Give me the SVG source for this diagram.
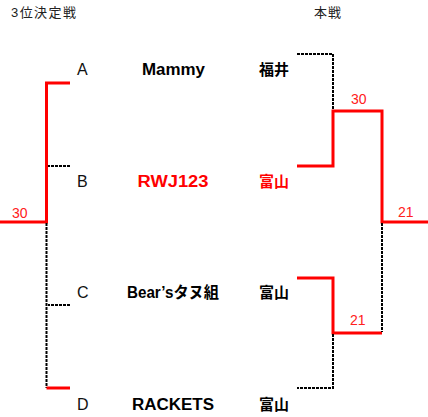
<svg xmlns="http://www.w3.org/2000/svg" width="428" height="417" viewBox="0 0 428 417">
<style>
.red{fill:none;stroke:#ff0000;stroke-width:3}
.dot{fill:none;stroke:#000;stroke-width:2;stroke-dasharray:3 1}
.t{font-family:"Liberation Sans","Noto Sans CJK JP",sans-serif}
.hd{font-size:13px;fill:#222}
.let{font-size:16px;fill:#111}
.team{font-size:16px;font-weight:bold;fill:#000;text-anchor:middle}
.pref{font-size:15px;font-weight:bold;fill:#000;text-anchor:middle}
.sc{font-size:14px;fill:#ff2020}
.r{fill:#ff0000}
</style>
<rect width="428" height="417" fill="#fff"/>
<g id="headers" class="t">
<text class="hd" x="11" y="17" textLength="65">3位決定戦</text>
<text class="hd" x="314" y="17" textLength="27">本戦</text>
</g>
<g id="connectors">
<path class="red" d="M70,83 H46.5 V222 H0"/>
<path class="dot" d="M70,166 H48"/>
<path class="dot" d="M46.5,223 V388"/>
<path class="dot" d="M70,305 H48"/>
<path class="red" d="M70,388 H46.5"/>
<path class="dot" d="M297,54 H333 V110"/>
<path class="red" d="M297,166 H333 V111 H382 V222 H428"/>
<path class="red" d="M297,278 H333 V333 H382"/>
<path class="dot" d="M382,223 V332"/>
<path class="dot" d="M333,334 V388 H297"/>
</g>
<g id="scores" class="t">
<text class="sc" x="12" y="218">30</text>
<text class="sc" x="351" y="104">30</text>
<text class="sc" x="350" y="325">21</text>
<text class="sc" x="398" y="217">21</text>
</g>
<g id="nodeA" class="t">
<text class="let" x="77" y="75">A</text>
<text class="team" x="173.5" y="75" textLength="63" lengthAdjust="spacingAndGlyphs">Mammy</text>
<text class="pref" x="274" y="75">福井</text>
</g>
<g id="nodeB" class="t">
<text class="let" x="77" y="187">B</text>
<text class="team r" x="173" y="187" textLength="71" lengthAdjust="spacingAndGlyphs">RWJ123</text>
<text class="pref r" x="274" y="187">富山</text>
</g>
<g id="nodeC" class="t">
<text class="let" x="77" y="298">C</text>
<text class="team" x="173" y="298" textLength="92" lengthAdjust="spacingAndGlyphs">Bear’sタヌ組</text>
<text class="pref" x="274" y="298">富山</text>
</g>
<g id="nodeD" class="t">
<text class="let" x="77" y="410">D</text>
<text class="team" x="173" y="410" textLength="82" lengthAdjust="spacingAndGlyphs">RACKETS</text>
<text class="pref" x="274" y="410">富山</text>
</g>
</svg>
